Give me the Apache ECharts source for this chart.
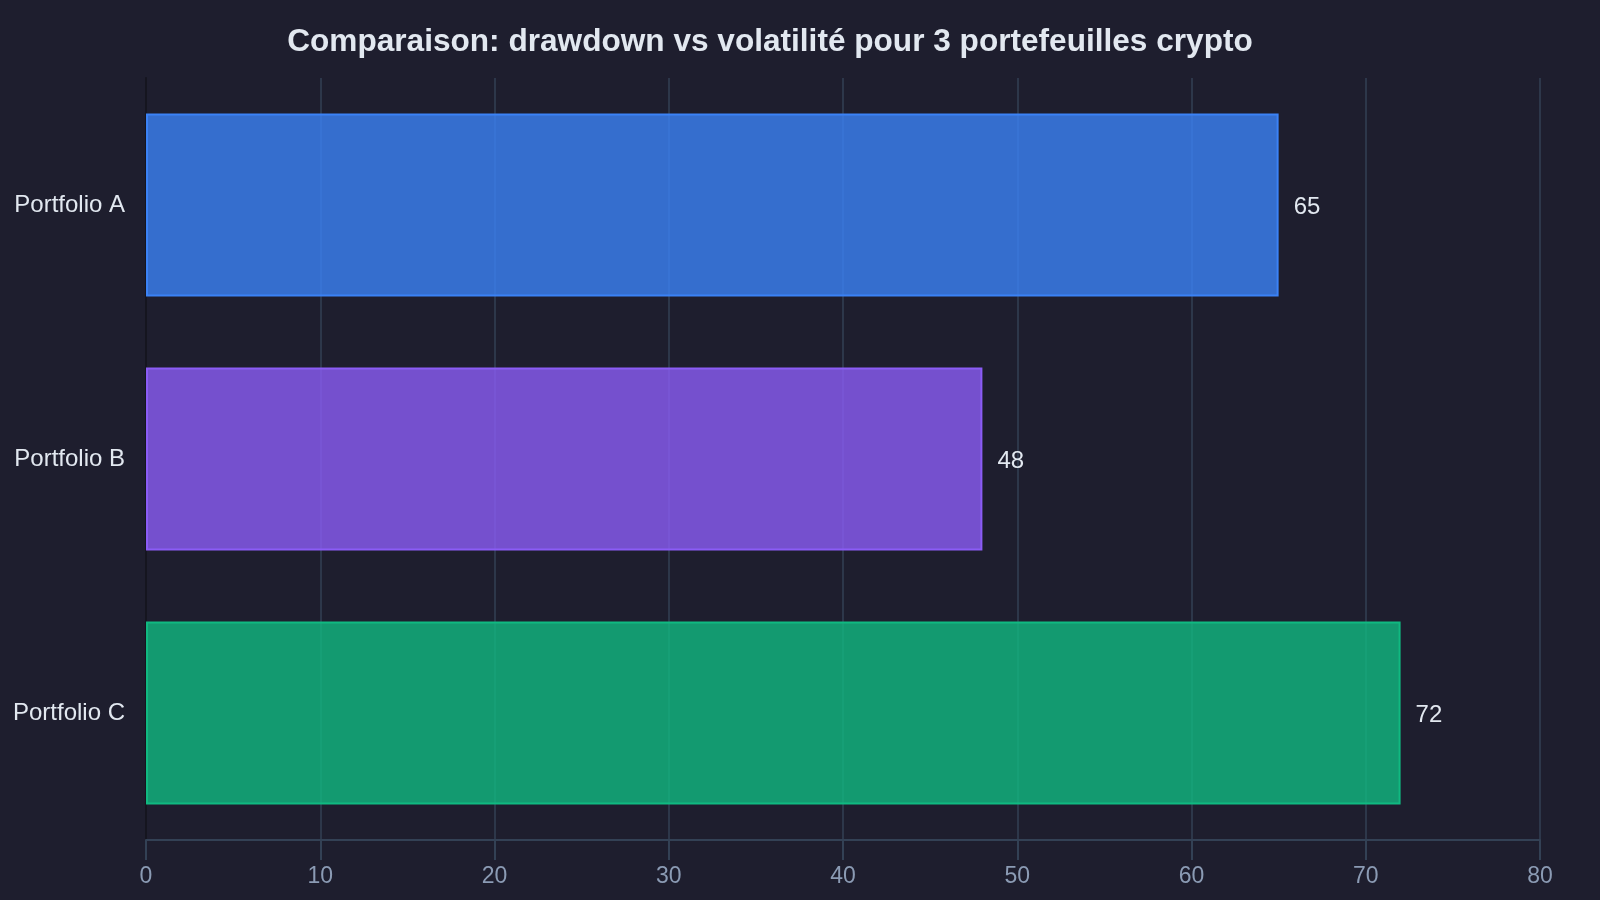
<!DOCTYPE html>
<html>
<head>
<meta charset="utf-8">
<script src="https://cdn.jsdelivr.net/npm/echarts@6/dist/echarts.min.js"></script>
<style>
html,body{margin:0;padding:0;background:#1e1e2e;}
#chart{width:1600px;height:900px;}
</style>
</head>
<body>
<div id="chart"></div>
<script>
const titleText = 'Comparaison: drawdown vs volatilité pour 3 portefeuilles crypto';
const categories = ['Portfolio A', 'Portfolio B', 'Portfolio C'];
const values = [65, 48, 72];
const barColors = ['#3b82f6', '#8b5cf6', '#10b981'];
const xTicks = [0, 10, 20, 30, 40, 50, 60, 70, 80];

const chart = echarts.init(document.getElementById('chart'), null, {renderer: 'canvas'});
chart.setOption({
  backgroundColor: '#1e1e2e',
  animation: false,
  title: {
    text: titleText,
    left: 765,
    textAlign: 'center',
    top: 21,
    textStyle: {color: '#e2e8f0', fontSize: 31.6, fontWeight: 'bold', fontFamily: 'Liberation Sans, Arial, sans-serif'}
  },
  grid: {left: 146, right: 60, top: 78, bottom: 60, containLabel: false},
  xAxis: {
    type: 'value',
    min: xTicks[0],
    max: xTicks[xTicks.length - 1],
    interval: xTicks[1] - xTicks[0],
    axisLine: {show: true, lineStyle: {color: '#334155', width: 2}},
    axisTick: {show: true, length: 20, lineStyle: {color: '#334155', width: 2}},
    splitLine: {show: true, lineStyle: {color: '#334155', width: 1.5}},
    axisLabel: {color: '#8b9bb4', fontSize: 23, margin: 25, fontFamily: 'Liberation Sans, Arial, sans-serif'}
  },
  yAxis: {
    type: 'category',
    data: categories,
    inverse: true,
    axisLine: {show: true, lineStyle: {color: '#15151f', width: 2}},
    axisTick: {show: false},
    splitLine: {show: false},
    axisLabel: {color: '#e2e8f0', fontSize: 24, margin: 21, padding: [3, 0, 0, 0], fontFamily: 'Liberation Sans, Arial, sans-serif'}
  },
  series: [{
    type: 'bar',
    data: values.map((v, i) => ({
      value: v,
      itemStyle: {color: echarts.color.modifyAlpha(barColors[i], 0.8), borderColor: barColors[i], borderWidth: 2}
    })),
    barCategoryGap: '28%',
    label: {
      show: true,
      position: 'right',
      distance: 15,
      offset: [0, 2],
      color: '#e2e8f0',
      fontSize: 24,
      fontFamily: 'Liberation Sans, Arial, sans-serif'
    }
  }]
});
</script>
</body>
</html>
